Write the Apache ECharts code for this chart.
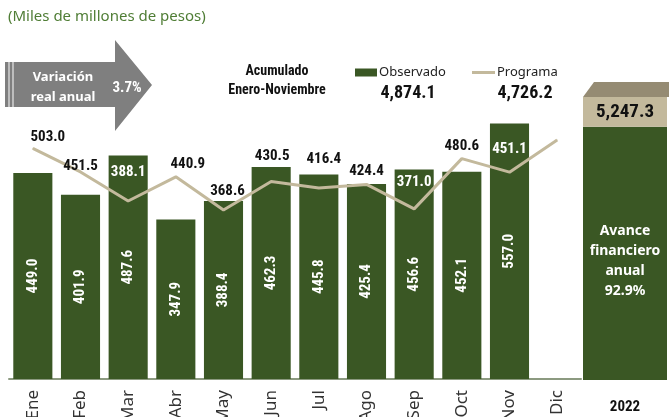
<!DOCTYPE html>
<html><head><meta charset="utf-8">
<script src="https://cdn.jsdelivr.net/npm/echarts@6/dist/echarts.min.js"></script>
<style>html,body{margin:0;padding:0;background:#fff}#c{width:669px;height:417px}</style>
</head><body><div id="c"></div>
<script>
// ---- data ----
var months = ['Ene','Feb','Mar','Abr','May','Jun','Jul','Ago','Sep','Oct','Nov','Dic'];
var observado = [449.0,401.9,487.6,347.9,388.4,462.3,445.8,425.4,456.6,452.1,557.0,null];
var programa = [503.0,451.5,388.1,440.9,368.6,430.5,416.4,424.4,371.0,480.6,451.1,521.1];
var acumObservado = 4874.1;
var acumPrograma = 4726.2;
var programaAnual = 5247.3;
var avanceAnual = 92.9;
var variacionReal = 3.7;
var yearLabel = '2022';

// ---- style (label placement) ----
var progLabelOffset = [[15,2],[0,7],[0,-16],[12,0],[4,-6],[1,-12],[5,-16],[0,0],[0,-14],[0,1],[0,-10],null];
var progLabelWhite = [false,false,true,false,false,false,false,false,true,false,true,false];

var GREEN = '#3a5724', BEIGE = '#c3b99c', TOPFACE = '#958b73';
var NARROW = '"Liberation Sans Narrow","Roboto Condensed","Liberation Sans",sans-serif';
var SANS = '"Noto Sans","Open Sans",sans-serif';
function fmt(v){ return v.toLocaleString('en-US',{minimumFractionDigits:1,maximumFractionDigits:1}); }

var progData = programa.map(function(v,i){
  var o = {value:v};
  if (progLabelOffset[i]) {
    o.label = {show:true, offset:progLabelOffset[i], color: progLabelWhite[i] ? '#fff' : '#111'};
  } else {
    o.label = {show:false};
  }
  return o;
});

var chart = echarts.init(document.getElementById('c'), null, {renderer:'canvas'});
chart.setOption({
  animation:false,
  grid:[
    {left:9, right:88, top:58, bottom:38, containLabel:false, outerBoundsMode:'none'},
    {left:583, width:84, top:97, bottom:37, containLabel:false, outerBoundsMode:'none'}
  ],
  xAxis:[
    {type:'category', gridIndex:0, data:months,
     axisLine:{lineStyle:{color:'#8c9a80', width:2}}, axisTick:{show:false},
     axisLabel:{rotate:90, color:'#333', fontFamily:SANS, fontSize:17, margin:11}},
    {type:'category', gridIndex:1, data:[yearLabel],
     axisLine:{show:false}, axisTick:{show:false},
     axisLabel:{color:'#111', fontFamily:NARROW, fontWeight:'bold', fontSize:15, margin:20}}
  ],
  yAxis:[
    {type:'value', gridIndex:0, min:0, max:700, show:false},
    {type:'value', gridIndex:1, min:1700, max:programaAnual, show:false}
  ],
  legend:[
    {left:355, top:66, padding:0, itemWidth:22, itemHeight:8, data:[{name:'Observado', icon:'rect'}],
     textStyle:{fontFamily:SANS, fontSize:13, color:'#222', padding:[0,0,0,-3]}, selectedMode:false},
    {left:472, top:66, padding:0, itemWidth:23, itemHeight:3, data:[{name:'Programa', icon:'rect'}],
     textStyle:{fontFamily:SANS, fontSize:13, color:'#222', padding:[0,0,0,-3]}, selectedMode:false}
  ],
  series:[
    {name:'Observado', type:'bar', xAxisIndex:0, yAxisIndex:0, data:observado,
     barWidth:'82%', itemStyle:{color:GREEN},
     label:{show:true, position:'inside', rotate:90, color:'#fff', fontFamily:NARROW,
            fontWeight:'bold', fontSize:15, formatter:function(p){return p.value==null?'':p.value.toFixed(1);}}},
    {name:'Programa', type:'line', xAxisIndex:0, yAxisIndex:0, data:progData,
     symbol:'circle', symbolSize:1, showSymbol:true, lineStyle:{color:BEIGE, width:3}, itemStyle:{color:BEIGE},
     label:{show:true, position:'top', fontFamily:NARROW, fontWeight:'bold', fontSize:15,
            formatter:function(p){return p.value.toFixed(1);}}, z:3},
    {name:'anualObs', type:'bar', xAxisIndex:1, yAxisIndex:1, stack:'a', data:[acumObservado],
     barWidth:'100%', itemStyle:{color:GREEN},
     label:{show:true, position:'inside', offset:[0,8], color:'#fff', fontFamily:SANS,
            fontWeight:'bold', fontSize:14, lineHeight:20,
            formatter:function(){return 'Avance\nfinanciero\nanual\n'+avanceAnual.toFixed(1)+'%';}}},
    {name:'anualRest', type:'bar', xAxisIndex:1, yAxisIndex:1, stack:'a',
     data:[+(programaAnual-acumObservado).toFixed(1)],
     barWidth:'100%', itemStyle:{color:BEIGE},
     label:{show:true, position:'inside', color:'#111', fontFamily:NARROW, fontWeight:'bold', fontSize:19,
            formatter:function(){return fmt(programaAnual);}}}
  ],
  graphic:[
    {type:'text', left:8, top:9, style:{text:'(Miles de millones de pesos)', fill:'#4f7d35', font:'15px '+SANS}},
    {type:'polygon', shape:{points:[[5,62],[115,62],[115,40],[152,85],[115,131],[115,107],[5,107]]},
     style:{fill:'#7f7f7f'}},
    {type:'line', shape:{x1:9,y1:62,x2:9,y2:107}, style:{stroke:'#e8e8e8', lineWidth:1.2}},
    {type:'line', shape:{x1:13,y1:62,x2:13,y2:107}, style:{stroke:'#e8e8e8', lineWidth:1.2}},
    {type:'text', x:63, y:77, style:{text:'Variación', fill:'#fff', font:'bold 13px '+SANS, align:'center', verticalAlign:'middle'}},
    {type:'text', x:63, y:97, style:{text:'real anual', fill:'#fff', font:'bold 13px '+SANS, align:'center', verticalAlign:'middle'}},
    {type:'text', x:127, y:88, style:{text:variacionReal.toFixed(1)+'%', fill:'#fff', font:'bold 15px '+NARROW, align:'center', verticalAlign:'middle'}},
    {type:'text', x:277, y:71, style:{text:'Acumulado', fill:'#111', font:'bold 14px '+NARROW, align:'center', verticalAlign:'middle'}},
    {type:'text', x:277, y:90, style:{text:'Enero-Noviembre', fill:'#111', font:'bold 14px '+NARROW, align:'center', verticalAlign:'middle'}},
    {type:'text', x:408, y:93, style:{text:fmt(acumObservado), fill:'#111', font:'bold 18px '+NARROW, align:'center', verticalAlign:'middle'}},
    {type:'text', x:525, y:93, style:{text:fmt(acumPrograma), fill:'#111', font:'bold 18px '+NARROW, align:'center', verticalAlign:'middle'}},
    {type:'polygon', shape:{points:[[583,97],[594,82],[669,82],[669,97]]}, style:{fill:TOPFACE}}
  ]
});
</script></body></html>
